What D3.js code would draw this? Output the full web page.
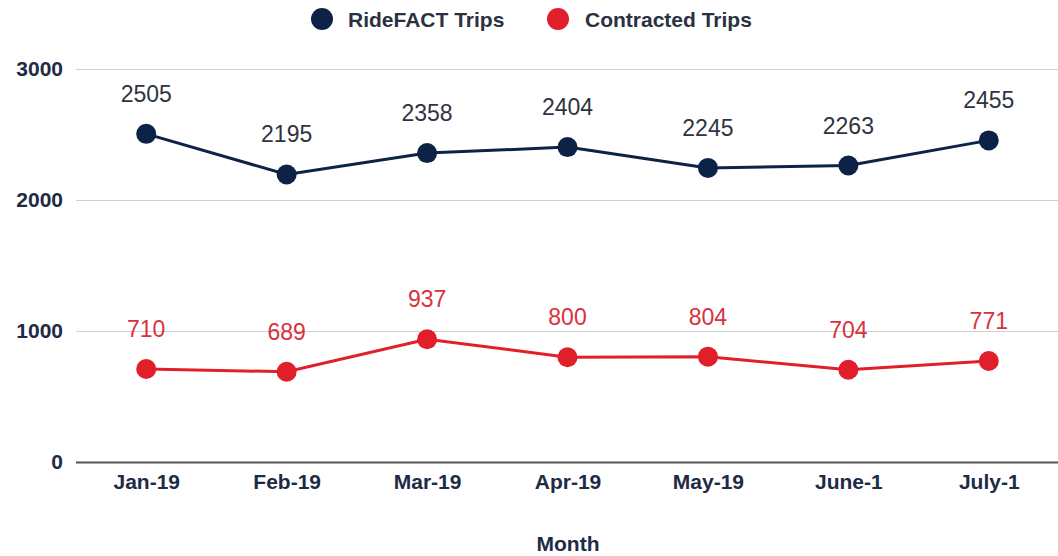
<!DOCTYPE html>
<html>
<head>
<meta charset="utf-8">
<script src="https://cdn.jsdelivr.net/npm/d3@7"></script>
<style>
  body { margin: 0; background: #fff; }
  svg { font-family: "Liberation Sans", Arial, sans-serif; }
</style>
</head>
<body>
<svg width="1058" height="556"></svg>
<script>
const months = ['Jan-19', 'Feb-19', 'Mar-19', 'Apr-19', 'May-19', 'June-1', 'July-1'];
const rideFactTrips = [2505, 2195, 2358, 2404, 2245, 2263, 2455];
const contractedTrips = [710, 689, 937, 800, 804, 704, 771];
const yTicks = [0, 1000, 2000, 3000];

function whenLoaded(){
    const svg = d3.select('svg');
    const width = +svg.attr('width');

    const series = [
        {name: 'RideFACT Trips', values: rideFactTrips, color: '#0c2347', label: '#2f3440'},
        {name: 'Contracted Trips', values: contractedTrips, color: '#e01f2a', label: '#d8323f'}
    ];

    const xScale = d3.scalePoint()
        .domain(months)
        .range([76, 1059])
        .padding(0.5);

    const yScale = d3.scaleLinear()
        .domain([0, 3000])
        .range([462, 69]);

    // gridlines
    const yAxis = d3.axisLeft(yScale)
        .tickValues(yTicks)
        .tickSize(-(width - 76))
        .tickPadding(13)
        .tickFormat(d3.format('d'));

    const yAxisG = svg.append('g')
        .attr('transform', 'translate(76,0)')
        .call(yAxis);
    yAxisG.select('.domain').remove();
    yAxisG.selectAll('line')
        .attr('stroke', d => d === 0 ? '#555' : '#cfcfcf')
        .attr('stroke-width', d => d === 0 ? 2 : 1);
    yAxisG.selectAll('text')
        .attr('fill', '#1e2b45')
        .attr('font-size', 21)
        .attr('font-weight', 'bold');

    const xAxis = d3.axisBottom(xScale).tickSize(0).tickPadding(12);
    const xAxisG = svg.append('g')
        .attr('transform', 'translate(0,462)')
        .call(xAxis);
    xAxisG.select('.domain').remove();
    xAxisG.selectAll('text')
        .attr('fill', '#1e2b45')
        .attr('font-size', 21)
        .attr('font-weight', 'bold');

    svg.append('text')
        .attr('x', 568)
        .attr('y', 551)
        .attr('text-anchor', 'middle')
        .attr('fill', '#1e2b45')
        .attr('font-size', 21)
        .attr('font-weight', 'bold')
        .text('Month');

    const line = d3.line()
        .x((d, i) => xScale(months[i]))
        .y(d => yScale(d));

    series.forEach(s => {
        const g = svg.append('g');
        g.append('path')
            .attr('d', line(s.values))
            .attr('fill', 'none')
            .attr('stroke', s.color)
            .attr('stroke-width', 3);
        g.selectAll('circle').data(s.values)
            .enter()
            .append('circle')
            .attr('cx', (d, i) => xScale(months[i]))
            .attr('cy', d => yScale(d))
            .attr('r', 10)
            .attr('fill', s.color);
        g.selectAll('text').data(s.values)
            .enter()
            .append('text')
            .attr('x', (d, i) => xScale(months[i]))
            .attr('y', d => yScale(d) - 32)
            .attr('text-anchor', 'middle')
            .attr('fill', s.label)
            .attr('font-size', 23)
            .text(d => d);
    });

    // legend
    const legendPos = [{cx: 322, tx: 348}, {cx: 558, tx: 585}];
    series.forEach((s, i) => {
        svg.append('circle')
            .attr('cx', legendPos[i].cx)
            .attr('cy', 19)
            .attr('r', 11)
            .attr('fill', s.color);
        svg.append('text')
            .attr('x', legendPos[i].tx)
            .attr('y', 27)
            .attr('fill', '#2a3142')
            .attr('font-size', 21)
            .attr('font-weight', 'bold')
            .text(s.name);
    });
}

window.onload = whenLoaded;
</script>
</body>
</html>
